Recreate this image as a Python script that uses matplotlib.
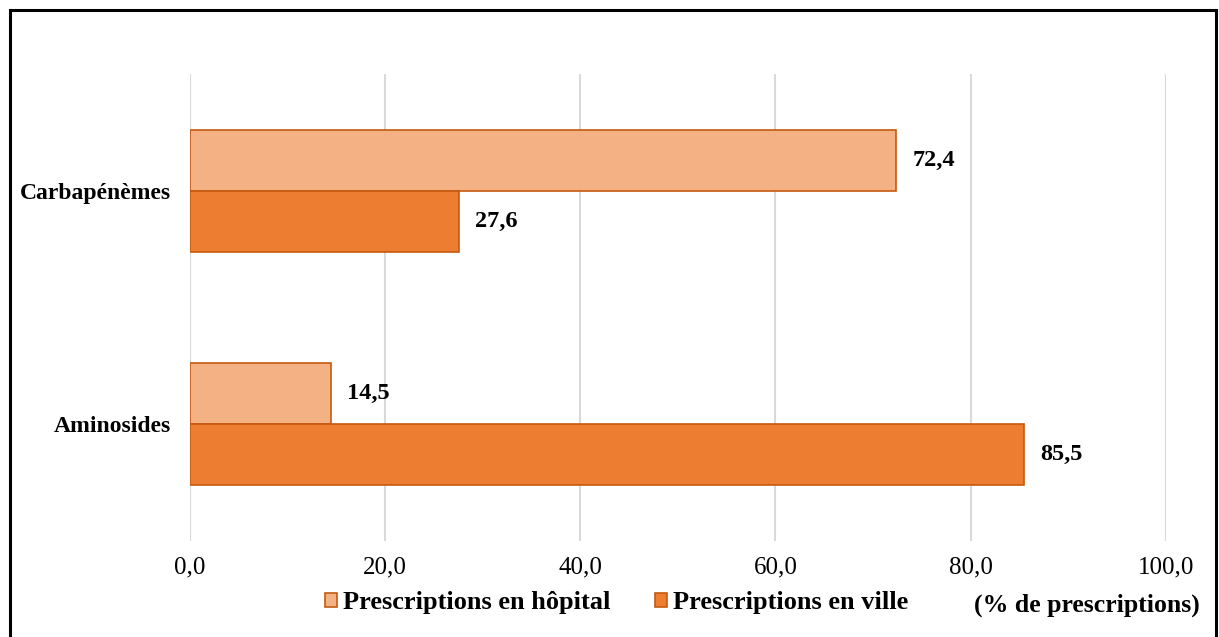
import matplotlib
matplotlib.use("Agg")
import matplotlib.pyplot as plt
from matplotlib.patches import Rectangle
import numpy as np

categories = ["Aminosides", "Carbapénèmes"]
hopital = [14.5, 72.4]
ville = [85.5, 27.6]
series_names = ["Prescriptions en hôpital", "Prescriptions en ville"]
xticks = [0, 20, 40, 60, 80, 100]
xtick_labels = ["0,0", "20,0", "40,0", "60,0", "80,0", "100,0"]
unit_label = "(% de prescriptions)"

plt.rcParams['font.family'] = ['Liberation Serif', 'DejaVu Serif']

W, H = 1219, 637
fig = plt.figure(figsize=(W / 100, H / 100), dpi=100)
ax = fig.add_axes([190 / W, 1 - 541 / H, (1165.7 - 190) / W, (541 - 74) / H])

light = "#F4B183"
dark = "#ED7D31"
edge = "#C55A11"
h = 0.262
y = np.arange(len(categories))
b1 = ax.barh(y + h / 2, hopital, height=h, color=light, edgecolor=edge, linewidth=1.2, label=series_names[0], zorder=3)
b2 = ax.barh(y - h / 2, ville, height=h, color=dark, edgecolor=edge, linewidth=1.2, label=series_names[1], zorder=3)

for bars, vals in ((b1, hopital), (b2, ville)):
    for bar, v in zip(bars, vals):
        ax.annotate(f"{v:.1f}".replace(".", ","), (v, bar.get_y() + bar.get_height() / 2),
                    xytext=(11.5, 0), textcoords="offset points", va="center", ha="left",
                    fontsize=17.5, fontweight="bold")

ax.set_xlim(0, 100)
ax.set_ylim(-0.5, 1.5)
ax.set_xticks(xticks)
ax.set_xticklabels(xtick_labels, fontsize=18)
ax.set_yticks(y)
ax.set_yticklabels(categories, fontsize=17, fontweight="bold")
ax.tick_params(axis="x", length=0, pad=11)
ax.tick_params(axis="y", length=0, pad=14)
ax.grid(axis="x", color="#D9D9D9", linewidth=1.5, zorder=0)
ax.set_axisbelow(True)
for s in ax.spines.values():
    s.set_visible(False)

leg = fig.legend(handles=[b1, b2], labels=series_names, loc="center left",
                 bbox_to_anchor=(325 / W, 1 - 603 / H), ncol=2, frameon=False,
                 prop={"size": 19, "weight": "bold"}, handlelength=0.45, handleheight=0.45,
                 handletextpad=0.23, columnspacing=1.7, borderaxespad=0, borderpad=0)

fig.text(1200 / W, 1 - 605 / H, unit_label, ha="right", va="center", fontsize=18.5, fontweight="bold")

fig.patches.append(Rectangle((9.5 / W, -0.05), (1216 - 9.5) / W, (1 - 10 / H) + 0.05,
                             transform=fig.transFigure, fill=False, edgecolor="black", linewidth=2.2))

fig.savefig("out.png", dpi=100)
